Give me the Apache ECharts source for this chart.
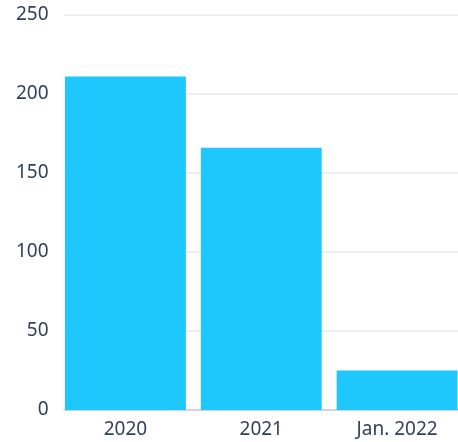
<!DOCTYPE html>
<html>
<head>
<meta charset="utf-8">
<script src="https://cdn.jsdelivr.net/npm/echarts@6/dist/echarts.min.js"></script>
<style>
html,body{margin:0;padding:0;background:#fff;}
#chart{width:458px;height:442px;}
</style>
</head>
<body>
<div id="chart"></div>
<script>
var categories = ['2020', '2021', 'Jan. 2022'];
var values = [211, 166, 25];
var yMin = 0, yMax = 250, yStep = 50;

var labelStyle = { color: '#33415e', fontSize: 19, fontFamily: 'Noto Sans' };
var chart = echarts.init(document.getElementById('chart'));
chart.setOption({
  animation: false,
  grid: [
    { left: 57.5, top: 15, right: -7, bottom: 32, outerBoundsMode: 'none' },
    { left: 64, top: 15, right: 0, bottom: 32, outerBoundsMode: 'none' }
  ],
  xAxis: [{
    type: 'category', gridIndex: 0,
    data: categories,
    axisLine: { show: false },
    axisTick: { show: false },
    axisLabel: Object.assign({ margin: 10 }, labelStyle)
  }, {
    type: 'category', gridIndex: 1,
    data: categories,
    axisLine: { show: true, lineStyle: { color: '#c9ccd8', width: 1.5 } },
    axisTick: { show: false },
    axisLabel: { show: false }
  }],
  yAxis: [{
    type: 'value', gridIndex: 0,
    min: yMin, max: yMax, interval: yStep,
    axisLine: { show: false },
    axisTick: { show: false },
    splitLine: { show: false },
    axisLabel: Object.assign({ margin: 9 }, labelStyle)
  }, {
    type: 'value', gridIndex: 1,
    min: yMin, max: yMax, interval: yStep,
    axisLine: { show: false },
    axisTick: { show: false },
    splitLine: { lineStyle: { color: '#e8e9ef', width: 1.5 } },
    axisLabel: { show: false }
  }],
  series: [{
    type: 'bar',
    xAxisIndex: 0, yAxisIndex: 0,
    data: values,
    barCategoryGap: '11%',
    itemStyle: { color: '#1ec8ff' },
    z: 3
  }]
});
</script>
</body>
</html>
